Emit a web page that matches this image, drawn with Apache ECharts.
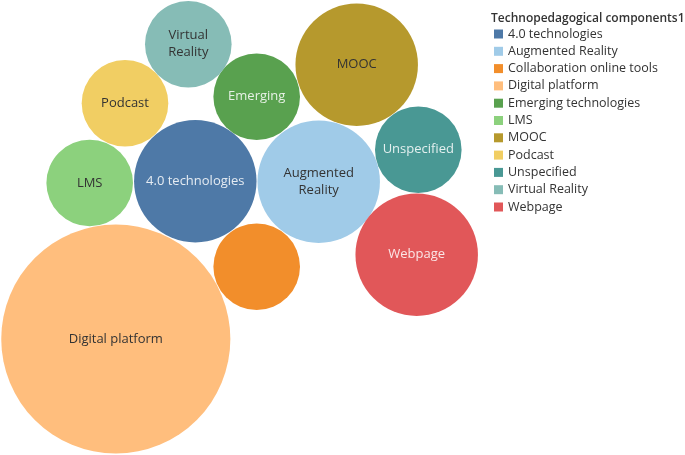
<!DOCTYPE html>
<html>
<head>
<meta charset="utf-8">
<script src="https://cdn.jsdelivr.net/npm/echarts@6/dist/echarts.min.js"></script>
<style>html,body{margin:0;padding:0;background:#fff;}#c{width:685px;height:455px;}</style>
</head>
<body>
<div id="c"></div>
<script>
// Categories and values (number of items per component)
const categories = ['4.0 technologies','Augmented Reality','Collaboration online tools','Digital platform','Emerging technologies','LMS','MOOC','Podcast','Unspecified','Virtual Reality','Webpage'];
const counts = [2, 2, 1, 7, 1, 1, 2, 1, 1, 1, 2];
const bubbleLabels = ['4.0 technologies','Augmented\nReality','','Digital platform','Emerging','LMS','MOOC','Podcast','Unspecified','Virtual\nReality','Webpage'];
// Packed-bubble layout (centres in layout units)
const layoutX = [195.3, 318.7, 256.7, 115.8, 256.7, 89.7, 356.7, 125.0, 418.3, 188.3, 416.7];
const layoutY = [181.3, 181.7, 266.7, 339.0, 96.7, 183.0, 64.7, 103.3, 149.7, 44.2, 254.7];

const colors = ['#4E79A7','#A0CBE8','#F28E2B','#FFBE7D','#59A14F','#8CD17D','#B6992D','#F1CE63','#499894','#86BCB6','#E15759'];
const labelColors = ['rgba(255,255,255,0.85)','#333','#333','#333','rgba(255,255,255,0.85)','#333','#333','#333','rgba(255,255,255,0.85)','#333','rgba(255,255,255,0.85)'];
const unitRadius = 43.3;

const chart = echarts.init(document.getElementById('c'));
const series = categories.map((name, i) => ({
  name: name,
  type: 'scatter',
  data: [[layoutX[i], layoutY[i], counts[i]]],
  symbolSize: v => 2 * unitRadius * Math.sqrt(v[2]),
  itemStyle: { color: colors[i], opacity: 1 },
  label: {
    show: bubbleLabels[i] !== '',
    position: 'inside',
    formatter: () => bubbleLabels[i],
    color: labelColors[i],
    fontFamily: 'Open Sans',
    fontSize: 13,
    lineHeight: 17
  },
  emphasis: { disabled: true },
  animation: false
}));

chart.setOption({
  animation: false,
  color: colors,
  title: {
    text: 'Technopedagogical components1',
    left: 486, top: 8,
    textStyle: { fontFamily: 'Open Sans', fontSize: 12, fontWeight: 600, color: '#333' }
  },
  legend: {
    orient: 'vertical',
    left: 489, top: 22,
    icon: 'rect',
    itemWidth: 9, itemHeight: 9,
    itemGap: 3.3,
    textStyle: { fontFamily: 'Open Sans', fontSize: 12.5, color: '#333', lineHeight: 14 },
    data: categories
  },
  grid: { left: 0, top: 0, width: 480, height: 455 },
  xAxis: { type: 'value', min: 0, max: 480, show: false },
  yAxis: { type: 'value', min: 0, max: 455, inverse: true, show: false },
  series: series
});
</script>
</body>
</html>
